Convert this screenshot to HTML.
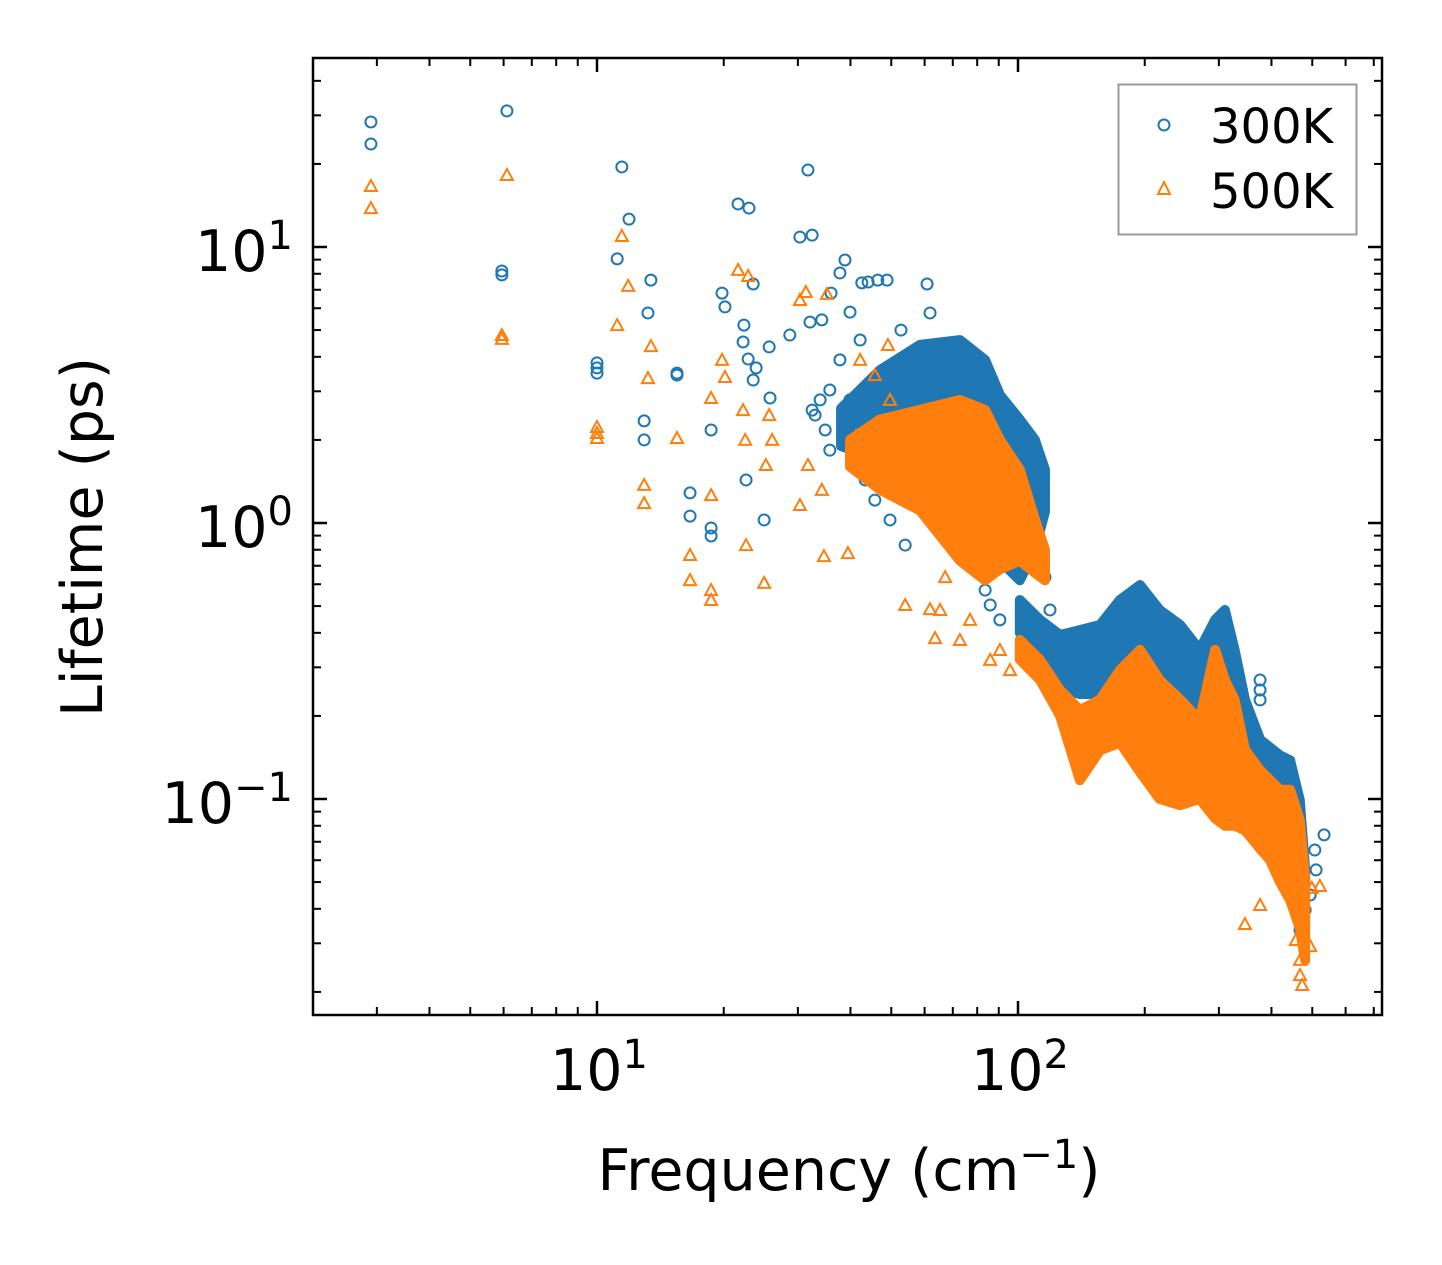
<!DOCTYPE html>
<html><head><meta charset="utf-8"><style>
html,body{margin:0;padding:0;background:#fff;}
svg{display:block;font-family:"DejaVu Sans","Liberation Sans",sans-serif;}
</style></head><body>
<svg id="chart" width="1442" height="1265" viewBox="0 0 1442 1265" xmlns="http://www.w3.org/2000/svg">
<rect x="0" y="0" width="1442" height="1265" fill="#fff"/>
<g id="bands"></g>
<g id="marks"></g>
<g id="axes"></g>
<text x="849" y="1190" font-size="57" text-anchor="middle">Frequency (cm<tspan dy="-22" font-size="40">−1</tspan><tspan dy="22">)</tspan></text>
<text transform="translate(102,537) rotate(-90)" font-size="57" text-anchor="middle">Lifetime (ps)</text>
<g>
<rect x="1118.5" y="84.5" width="238" height="150" fill="#fff" stroke="#999" stroke-width="2"/>
<circle cx="1164" cy="125" r="5.5" fill="none" stroke="#1f77b4" stroke-width="2"/>
<text x="1210" y="143" font-size="48">300K</text>
<polygon points="1164,182 1170,194 1158,194" fill="none" stroke="#ff7f0e" stroke-width="2"/>
<text x="1210" y="208" font-size="48">500K</text>
</g>
</svg>
<script>
// ---- data: scattered points (log10 of frequency in cm^-1, log10 of lifetime in ps)
const freqExp300 = [0.463,0.463,0.786,0.774,0.774,1.0,1.0,1.0,1.059,1.076,1.048,1.121,1.128,1.112,1.112,1.19,1.19,1.221,1.221,1.271,1.271,1.271,1.297,1.304,1.335,1.361,1.347,1.349,1.359,1.354,1.371,1.378,1.371,1.409,1.411,1.397,1.458,1.482,1.501,1.506,1.511,1.534,1.556,1.577,1.589,1.601,1.629,1.644,1.667,1.689,1.784,1.791,1.803,1.722,1.739,1.625,1.577,1.553,1.530,1.518,1.511,1.542,1.553,1.601,1.613,1.637,1.660,1.696,1.732,1.922,1.934,1.957,2.064,2.076,2.575,2.575,2.575,2.705,2.727,2.708,2.694,2.682,2.670,2.670];
const lifeExp300 = [1.453,1.373,1.493,0.913,0.899,0.580,0.562,0.543,1.29,1.101,0.957,0.761,0.88,0.37,0.301,0.543,0.536,0.109,0.025,-0.018,-0.047,0.337,0.833,0.783,1.156,1.141,0.656,0.717,0.594,0.156,0.866,0.562,0.518,0.638,0.453,0.011,0.681,1.036,1.279,0.728,1.043,0.736,0.833,0.906,0.953,0.764,0.87,0.873,0.88,0.88,0.866,0.761,0.609,0.699,0.609,0.663,0.591,0.482,0.446,0.391,0.409,0.337,0.264,0.446,0.228,0.156,0.083,0.011,-0.08,-0.243,-0.297,-0.351,-0.196,-0.315,-0.569,-0.641,-0.605,-1.185,-1.13,-1.257,-1.348,-1.402,-1.475,-1.149];
const freqExp500 = [0.463,0.463,0.786,0.774,0.774,1.0,1.0,1.0,1.059,1.074,1.048,1.128,1.121,1.112,1.112,1.19,1.221,1.221,1.271,1.271,1.271,1.297,1.304,1.271,1.335,1.359,1.354,1.347,1.352,1.397,1.401,1.416,1.409,1.482,1.496,1.546,1.501,1.534,1.482,1.539,1.596,1.615,1.625,1.660,1.691,1.696,1.720,1.732,1.791,1.815,1.827,1.886,1.862,1.803,1.934,1.957,1.981,2.010,2.076,2.539,2.575,2.658,2.670,2.670,2.694,2.698,2.717,2.675,2.660];
const lifeExp500 = [1.221,1.141,1.261,0.681,0.667,0.348,0.326,0.308,1.040,0.859,0.717,0.641,0.525,0.138,0.072,0.308,-0.116,-0.207,-0.243,-0.279,0.101,0.591,0.529,0.453,0.917,0.895,-0.08,0.409,0.301,-0.217,0.210,0.301,0.391,0.808,0.837,0.830,0.210,0.120,0.065,-0.12,-0.109,0.315,0.591,0.536,0.645,0.446,0.192,-0.297,-0.312,-0.315,-0.196,-0.351,-0.424,-0.417,-0.496,-0.460,-0.533,-0.478,-0.569,-1.453,-1.384,-1.359,-1.583,-1.638,-1.533,-1.322,-1.315,-1.674,-1.511];
// ---- data: dense-cloud envelopes (frequency cm^-1, lifetime ps)
const band300aFreq = [38,47,58.5,72.8,83.5,90.6,101,109.7,115.9];
const band300aHigh = [2.6,3.58,4.42,4.60,3.90,2.91,2.37,2.0,1.56];
const band300aLow  = [1.9,1.69,1.3,1.1,0.87,0.73,0.62,0.8,1.1];
const band300bFreq = [101,112.8,125.9,140.3,156.6,174.6,195,217,243,270,294,310,327,346,376,419,443,467,481];
const band300bHigh = [0.526,0.446,0.393,0.409,0.427,0.526,0.596,0.484,0.427,0.347,0.446,0.484,0.347,0.229,0.164,0.144,0.138,0.099,0.055];
const band300bLow  = [0.40,0.30,0.25,0.24,0.24,0.25,0.26,0.24,0.22,0.20,0.20,0.20,0.17,0.14,0.12,0.10,0.09,0.07,0.045];
const band500aFreq = [39.9,47,58.5,72.8,83.5,90.6,101,109.7,115.9];
const band500aHigh = [2.0,2.37,2.57,2.79,2.57,2.0,1.56,1.03,0.80];
const band500aLow  = [1.6,1.32,1.11,0.73,0.62,0.68,0.73,0.66,0.62];
const band500bFreq = [101,112.8,125.9,140.3,156.6,174.6,195,217,243,270,294,310,327,346,376,397,419,443,467,481];
const band500bHigh = [0.377,0.319,0.248,0.210,0.229,0.293,0.347,0.27,0.229,0.193,0.347,0.27,0.229,0.151,0.127,0.117,0.108,0.108,0.084,0.051];
const band500bLow  = [0.32,0.27,0.2,0.117,0.15,0.16,0.125,0.10,0.095,0.10,0.085,0.08,0.08,0.077,0.066,0.06,0.05,0.043,0.034,0.026];
const xMajorTicks = [10,100];
const xTickExp = ["1","2"];
const yMajorTicks = [10,1,0.1];
const yTickExp = ["1","0","−1"];

const NS="http://www.w3.org/2000/svg";
const L=313,R=1382,T=58,B=1015;
const X0=597,XD=421,Y0=247,YD=276;
function xs(f){return X0+(Math.log10(f)-1)*XD;}
function ys(v){return Y0-(Math.log10(v)-1)*YD;}
function mk(tag,parent){const e=document.createElementNS(NS,tag);parent.appendChild(e);return e;}
const C1="#1f77b4",C2="#ff7f0e";
const bandsG=document.getElementById('bands');
const marksG=document.getElementById('marks');
function band(fr,hi,lo,col,name,parent){
  let pts=[];
  for(let i=0;i<fr.length;i++)pts.push(xs(fr[i])+","+ys(hi[i]));
  for(let i=fr.length-1;i>=0;i--)pts.push(xs(fr[i])+","+ys(lo[i]));
  const p=mk('polygon',parent);
  p.setAttribute('points',pts.join(' '));
  p.setAttribute('fill',col);p.setAttribute('stroke',col);p.setAttribute('stroke-width','10');p.setAttribute('stroke-linejoin','round');
  
  
}
band(band300aFreq,band300aHigh,band300aLow,C1,'cloud-300k-low-freq',bandsG);
band(band300bFreq,band300bHigh,band300bLow,C1,'cloud-300k-high-freq',bandsG);
for(let i=0;i<freqExp300.length;i++){
  const c=mk('circle',marksG);
  c.setAttribute('cx',xs(10**freqExp300[i]));c.setAttribute('cy',ys(10**lifeExp300[i]));
  c.setAttribute('r','5.5');c.setAttribute('fill','none');c.setAttribute('stroke',C1);c.setAttribute('stroke-width','2');
  
  
}
band(band500aFreq,band500aHigh,band500aLow,C2,'cloud-500k-low-freq',marksG);
band(band500bFreq,band500bHigh,band500bLow,C2,'cloud-500k-high-freq',marksG);
for(let i=0;i<freqExp500.length;i++){
  const cx=xs(10**freqExp500[i]),cy=ys(10**lifeExp500[i]);
  const t=mk('polygon',marksG);
  t.setAttribute('points',`${cx},${cy-6} ${cx+6},${cy+5} ${cx-6},${cy+5}`);
  t.setAttribute('fill','none');t.setAttribute('stroke',C2);t.setAttribute('stroke-width','2');
  
  
}
// axes
const ax=document.getElementById('axes');
const fr=mk('rect',ax);
fr.setAttribute('x',L);fr.setAttribute('y',T);fr.setAttribute('width',R-L);fr.setAttribute('height',B-T);
fr.setAttribute('fill','none');fr.setAttribute('stroke','#000');fr.setAttribute('stroke-width','2.5');


function line(x1,y1,x2,y2,w){const l=mk('line',ax);l.setAttribute('x1',x1);l.setAttribute('y1',y1);l.setAttribute('x2',x2);l.setAttribute('y2',y2);l.setAttribute('stroke','#000');l.setAttribute('stroke-width',w);
  
  }
for(let d=0;d<=2;d++){for(let k=1;k<10;k++){const f=k*10**d;const x=xs(f);if(x<L||x>R)continue;
  const len=(k===1)?14:8,w=(k===1)?2.5:2;line(x,B,x,B-len,w);line(x,T,x,T+len,w);}}
for(let d=-2;d<=1;d++){for(let k=1;k<10;k++){const v=k*10**d;const y=ys(v);if(y<T||y>B)continue;
  const len=(k===1)?14:8,w=(k===1)?2.5:2;line(L,y,L+len,y,w);line(R,y,R-len,y,w);}}
for(let i=0;i<xMajorTicks.length;i++){
  const t=mk('text',ax);t.setAttribute('x',xs(xMajorTicks[i])-47);t.setAttribute('y',1090);t.setAttribute('font-size','57');t.setAttribute('text-anchor','start');
  t.innerHTML='10<tspan dy="-22" font-size="40">'+xTickExp[i]+'</tspan>';
  
  
}
for(let i=0;i<yMajorTicks.length;i++){
  const t=mk('text',ax);t.setAttribute('x',293);t.setAttribute('y',ys(yMajorTicks[i])+24);t.setAttribute('font-size','57');t.setAttribute('text-anchor','end');
  t.innerHTML='10<tspan dy="-22" font-size="40">'+yTickExp[i]+'</tspan>';
  
  
}
</script>
</body></html>
